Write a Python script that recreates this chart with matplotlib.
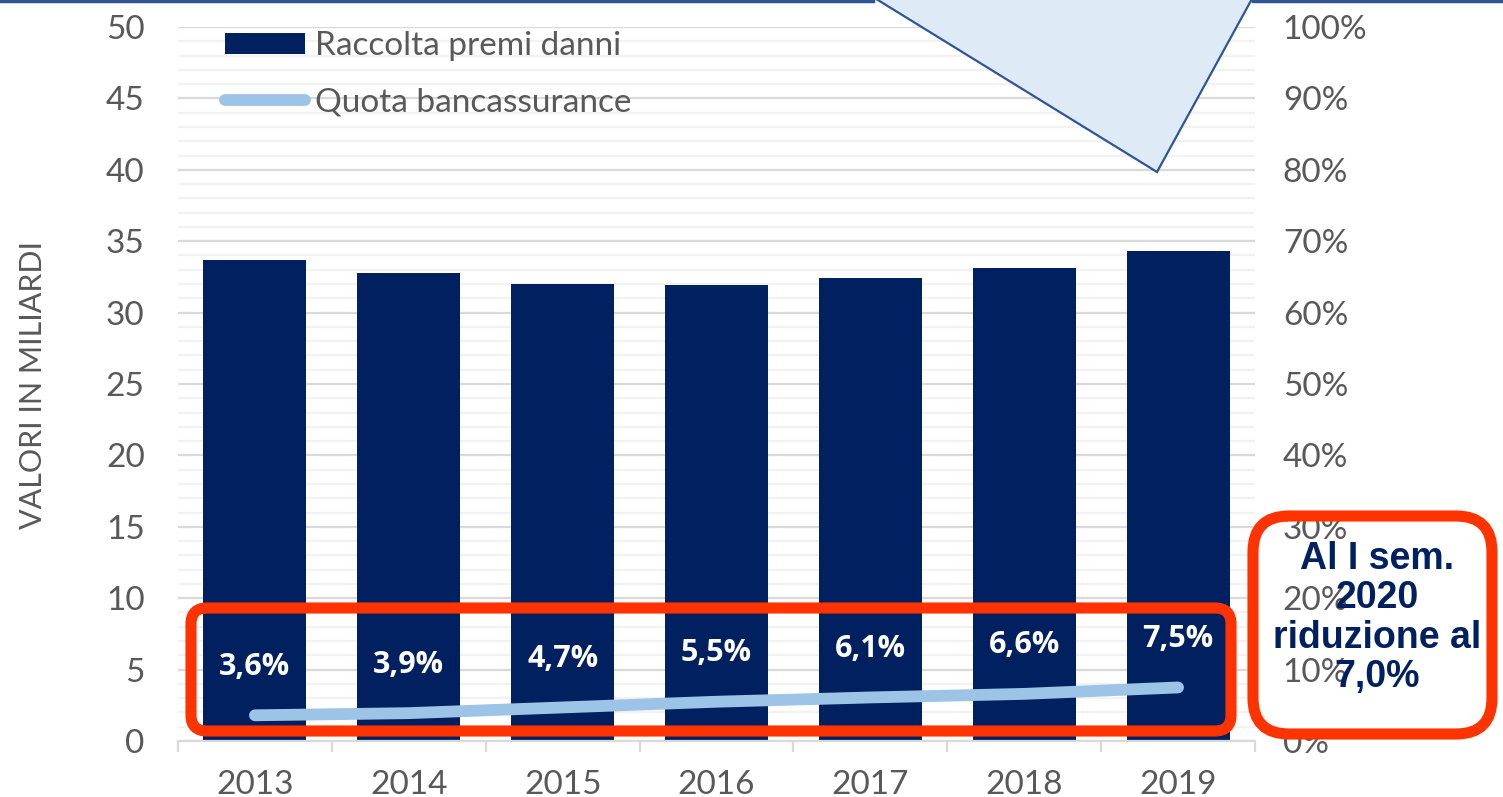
import matplotlib
matplotlib.use("Agg")
import matplotlib.pyplot as plt
from matplotlib.patches import FancyBboxPatch, Polygon, Patch
from matplotlib.lines import Line2D
from matplotlib.ticker import MultipleLocator, FixedLocator
import matplotlib.transforms as mtransforms

# dati
anni = ["2013", "2014", "2015", "2016", "2017", "2018", "2019"]
premi_danni = [33.7, 32.8, 32.0, 31.9, 32.4, 33.1, 34.3]
quota_banca = [0.036, 0.039, 0.047, 0.055, 0.061, 0.066, 0.075]
etichette = ["3,6%", "3,9%", "4,7%", "5,5%", "6,1%", "6,6%", "7,5%"]
tick_dx = ["0%", "10%", "20%", "30%", "40%", "50%", "60%", "70%", "80%", "90%", "100%"]

W, H = 1503, 797
NAVY = "#002060"
AZZURRO = "#9DC3E6"
ROSSO = "#FF3300"
GRIGIO = "#595959"
BORDO = "#2F5597"
FS = 24

fig = plt.figure(figsize=(W / 100, H / 100), dpi=100)
ax = fig.add_axes([178 / W, 1 - 741 / H, (1255 - 178) / W, (741 - 27) / H])
x = list(range(len(anni)))

# griglia
ax.set_ylim(0, 50)
ax.set_xlim(-0.5, len(anni) - 0.5)
ax.yaxis.set_major_locator(MultipleLocator(5))
ax.yaxis.set_minor_locator(MultipleLocator(1))
ax.grid(axis="y", which="major", color="#D9D9D9", lw=1.6, zorder=0)
ax.grid(axis="y", which="minor", color="#F2F2F2", lw=1.6, zorder=0)
ax.set_axisbelow(True)

ax.bar(x, premi_danni, width=0.67, color=NAVY, zorder=2)

for s in ["left", "right", "top"]:
    ax.spines[s].set_visible(False)
ax.spines["bottom"].set_color("#D9D9D9")
ax.spines["bottom"].set_linewidth(1.6)
ax.set_xticks(x)
ax.set_xticklabels(anni)
ax.xaxis.set_minor_locator(FixedLocator([i - 0.5 for i in range(len(anni) + 1)]))
ax.tick_params(axis="x", which="major", length=0, pad=21, labelsize=FS, labelcolor=GRIGIO)
ax.tick_params(axis="x", which="minor", length=8, width=1.6, color="#D9D9D9")
ax.tick_params(axis="y", which="both", length=0, pad=24, labelsize=FS, labelcolor=GRIGIO)
for t in ax.get_xticklabels() + ax.get_yticklabels():
    t.set_family("Lato")

# asse destro
ax2 = ax.twinx()
ax2.set_ylim(0, 1)
ax2.set_yticks([i / 10 for i in range(11)])
ax2.set_yticklabels(tick_dx)
ax2.tick_params(axis="y", length=0, pad=20, labelsize=FS, labelcolor=GRIGIO)
for t in ax2.get_yticklabels():
    t.set_family("Lato")
for s in ax2.spines.values():
    s.set_visible(False)

ax2.plot(x, quota_banca, color=AZZURRO, lw=8.5, solid_capstyle="round", zorder=3)
for xi, v, lab in zip(x, quota_banca, etichette):
    ax2.annotate(lab, (xi, v), xytext=(0, 35), textcoords="offset points",
                 ha="center", va="center", color="white", fontsize=22,
                 fontweight="bold", family="Open Sans", zorder=4)

# legenda
handles = [Patch(facecolor=NAVY, edgecolor="none"),
           Line2D([0], [0], color=AZZURRO, lw=8.5, solid_capstyle="round")]
leg = fig.legend(handles, ["Raccolta premi danni", "Quota bancassurance"],
                 loc="upper left", bbox_to_anchor=(195 / W, 1 - 1 / H),
                 frameon=False, handlelength=2.4, handleheight=0.6,
                 handletextpad=0.3, labelspacing=0.8,
                 prop={"family": "Lato", "size": FS})
for t in leg.get_texts():
    t.set_color(GRIGIO)

fig.text(33 / W, 1 - 385 / H, "VALORI IN MILIARDI", rotation=90, ha="center",
         va="center", fontsize=22, color=GRIGIO, family="Lato")

# decorazioni in pixel (origine in alto a sinistra)
px = mtransforms.Affine2D().scale(1, -1).translate(0, H)

tri = Polygon([(873, -3), (1157, 172), (1253, -3)], closed=True,
              facecolor="#DEEBF7", edgecolor=BORDO, lw=1.6, transform=px, zorder=10)
fig.add_artist(tri)
fig.add_artist(Line2D([0, 873], [1, 1], color=BORDO, lw=2.5, transform=px))
fig.add_artist(Line2D([1253, W], [1, 1], color=BORDO, lw=2.5, transform=px))

box1 = FancyBboxPatch((191, 608), 1231 - 191, 731 - 608,
                      boxstyle="round,pad=0,rounding_size=16",
                      facecolor="none", edgecolor=ROSSO, lw=8, transform=px, zorder=10)
fig.add_artist(box1)
box2 = FancyBboxPatch((1253, 516), 1492 - 1253, 734 - 516,
                      boxstyle="round,pad=0,rounding_size=36",
                      facecolor="none", edgecolor=ROSSO, lw=8, transform=px, zorder=10)
fig.add_artist(box2)

fig.text(1377 / W, 1 - 618 / H, "Al I sem.\n2020\nriduzione al\n7,0%",
         ha="center", va="center", fontsize=27, fontweight="bold", color=NAVY,
         family="Liberation Sans", linespacing=1.13, zorder=11)

fig.savefig("out.png", dpi=100)
